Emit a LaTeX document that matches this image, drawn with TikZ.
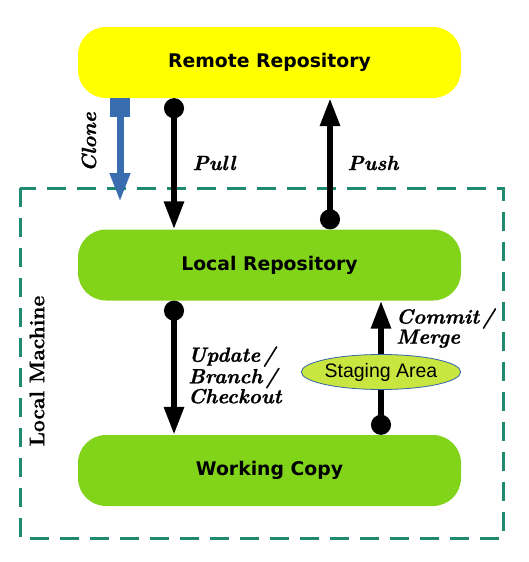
\documentclass[tikz,border=0pt]{standalone}
\usepackage{fontspec}
\usetikzlibrary{arrows.meta,shapes.geometric}
\newfontfamily\boxfont{DejaVu Sans}
\newfontfamily\stagefont{Liberation Sans}
\newfontfamily\lblfont{Latin Modern Roman}[BoldItalicFeatures={FakeBold=1}, BoldFeatures={FakeBold=1}]
\definecolor{remoteyellow}{HTML}{FFFF00}
\definecolor{limegreen}{HTML}{81D41A}
\definecolor{stagegreen}{HTML}{C9E540}
\definecolor{frameteal}{HTML}{1F8A70}
\definecolor{cloneblue}{HTML}{3A6DAF}
\definecolor{stageborder}{HTML}{3465A4}
\tikzset{
  repo/.style={rectangle, rounded corners=28pt, minimum width=383pt, minimum height=71pt,
    inner sep=0pt, font=\boxfont\bfseries\fontsize{18.8}{22}\selectfont},
  lbl/.style={inner sep=0pt, font=\lblfont\fontsize{20.5}{20}\selectfont\bfseries\itshape},
  flow/.style={line width=6pt, draw=black, {Circle[length=20pt]}-{Triangle[length=28pt,width=19pt]}},
  clonearrow/.style={line width=7pt, draw=cloneblue, {Square[length=19pt,width=20pt]}-{Triangle[length=29pt,width=19pt]}},
  frame/.style={draw=frameteal, line width=3pt, dash pattern=on 19pt off 11pt},
  stage/.style={ellipse, draw=stageborder, line width=0.8pt, fill=stagegreen, minimum width=138pt,
    minimum height=35pt, inner sep=0pt, font=\stagefont\fontsize{19.5}{22}\selectfont}
}
\begin{document}
\begin{tikzpicture}[x=1pt,y=-1pt]
\useasboundingbox (0,0) rectangle (529,562);
% local machine frame
\draw[frame] (20,188) rectangle (503,538);
\node[rotate=90, inner sep=0pt, font=\lblfont\fontsize{21}{22}\selectfont\bfseries] (machine) at (37,371) {Local Machine};
% repositories
\node[repo, fill=remoteyellow] (remote) at (269.5,62.5) {Remote Repository};
\node[repo, fill=limegreen] (local) at (269.5,265) {Local Repository};
\node[repo, fill=limegreen] (working) at (269.5,470.5) {Working Copy};
% x positions of connectors
\coordinate (cx) at (120,0);
\coordinate (px) at (174,0);
\coordinate (ux) at (330,0);
\coordinate (mx) at (381,0);
\coordinate (cloneend) at (120,202);
% clone
\draw[clonearrow] (remote.south -| cx) -- (cloneend);
\node[lbl, rotate=90] (clonelbl) at (89,142) {Clone};
% pull
\draw[flow] (remote.south -| px) -- (local.north -| px);
\node[lbl] (pulllbl) at (214,163) {Pull};
% push
\draw[flow] (local.north -| ux) -- (remote.south -| ux);
\node[lbl] (pushlbl) at (373,163) {Push};
% update
\draw[flow] (local.south -| px) -- (working.north -| px);
\node[lbl, anchor=west, align=left] (updlbl) at (188,375) {Update\hspace{3pt}/\\Branch\hspace{3pt}/\\Checkout};
% commit
\draw[flow] (working.north -| mx) -- (local.south -| mx);
\node[lbl, anchor=west, align=left] (commitlbl) at (396,328) {Commit\hspace{3pt}/\\Merge};
\node[stage] (staging) at (381,372) {Staging Area};
\end{tikzpicture}
\end{document}
